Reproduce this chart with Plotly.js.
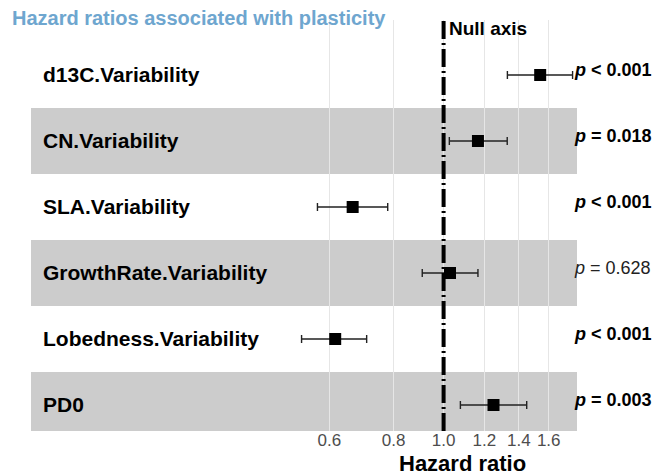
<!DOCTYPE html>
<html>
<head>
<meta charset="utf-8">
<script src="https://cdn.plot.ly/plotly-3.0.1.min.js"></script>
<style>html,body{margin:0;padding:0;background:#fff;}#chart{width:665px;height:475px;}</style>
</head>
<body>
<div id="chart"></div>
<script>
// Data (top to bottom)
const variables = ["d13C.Variability", "CN.Variability", "SLA.Variability", "GrowthRate.Variability", "Lobedness.Variability", "PD0"];
const hazardRatio = [1.54, 1.166, 0.666, 1.029, 0.616, 1.25];
const ciLower = [1.33, 1.026, 0.569, 0.909, 0.530, 1.078];
const ciUpper = [1.78, 1.329, 0.779, 1.166, 0.709, 1.45];
const pLabels = ["< 0.001", "= 0.018", "< 0.001", "= 0.628", "< 0.001", "= 0.003"];
const pSignificant = [true, true, true, false, true, true];
const tickValues = [0.6, 0.8, 1.0, 1.2, 1.4, 1.6];
const tickLabels = ["0.6", "0.8", "1.0", "1.2", "1.4", "1.6"];
const nullValue = 1.0;

const FONT = "Liberation Sans, Arial, sans-serif";
const n = variables.length;
const yPos = variables.map((_, i) => n - i);

const trace = {
  type: "scatter",
  mode: "markers",
  x: hazardRatio,
  y: yPos,
  marker: {symbol: "square", size: 12, color: "#000"},
  error_x: {
    type: "data",
    symmetric: false,
    array: hazardRatio.map((v, i) => ciUpper[i] - v),
    arrayminus: hazardRatio.map((v, i) => v - ciLower[i]),
    color: "#222",
    thickness: 1.4,
    width: 4
  },
  hoverinfo: "skip",
  showlegend: false
};

const shapes = [];
yPos.forEach((y, i) => {
  if (i % 2 === 1) {
    shapes.push({type: "rect", xref: "paper", yref: "y", x0: 0, x1: 1, y0: y - 0.5, y1: y + 0.5,
      fillcolor: "rgba(128,128,128,0.4)", line: {width: 0}, layer: "between"});
  }
});
shapes.push({type: "line", xref: "x", yref: "paper", x0: nullValue, x1: nullValue, y0: 0, y1: 1,
  line: {color: "#000", width: 4, dash: "18px,4px,2px,4px"}, layer: "above"});

const annotations = [];
variables.forEach((v, i) => {
  annotations.push({xref: "paper", yref: "y", x: 0, y: yPos[i], xanchor: "left", yanchor: "middle",
    xshift: 10, text: "<b>" + v + "</b>", showarrow: false,
    font: {family: FONT, size: 21, color: "#000"}});
  const t = pSignificant[i] ? "<b><i>p</i> " + pLabels[i] + "</b>" : "<i>p</i> " + pLabels[i];
  annotations.push({xref: "paper", yref: "y", x: 1, y: yPos[i] + 0.08, xanchor: "left", yanchor: "middle",
    xshift: -5, text: t, showarrow: false,
    font: {family: FONT, size: 18, color: pSignificant[i] ? "#000" : "#222"}});
});
annotations.push({xref: "x", yref: "paper", x: Math.log10(nullValue), y: 1, xanchor: "left", yanchor: "middle",
  xshift: 3, yshift: -8, text: "<b>Null axis</b>", showarrow: false,
  font: {family: FONT, size: 19, color: "#000"}});
annotations.push({xref: "x", yref: "paper", x: Math.log10(nullValue) + 0.036, y: 0, xanchor: "center", yanchor: "middle",
  yshift: -32, text: "<b>Hazard ratio</b>", showarrow: false,
  font: {family: FONT, size: 22, color: "#000"}});

const layout = {
  width: 665, height: 475,
  margin: {l: 31, r: 88, t: 20, b: 44},
  paper_bgcolor: "#fff", plot_bgcolor: "#fff",
  title: {text: "<b>Hazard ratios associated with plasticity</b>", x: 0.018, xanchor: "left", y: 0.962, yanchor: "middle",
    font: {family: FONT, size: 20, color: "#6ea6cf"}},
  xaxis: {
    type: "log",
    range: [-0.801, 0.259],
    tickvals: tickValues, ticktext: tickLabels,
    showgrid: true, gridcolor: "#e6e6e6", gridwidth: 1,
    zeroline: false, showline: false, ticks: "",
    ticklabelstandoff: -3,
    tickfont: {family: FONT, size: 17, color: "#4d4d4d"},
    fixedrange: true
  },
  yaxis: {
    range: [0.606, 6.833],
    showgrid: false, zeroline: false, showticklabels: false, ticks: "", showline: false,
    fixedrange: true
  },
  shapes: shapes,
  annotations: annotations
};

Plotly.newPlot("chart", [trace], layout, {staticPlot: true, displayModeBar: false});
</script>
</body>
</html>
